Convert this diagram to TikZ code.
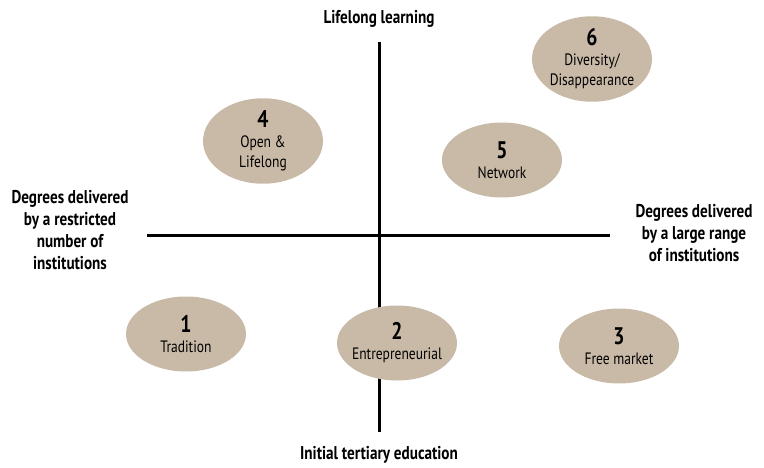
\documentclass[tikz,border=0pt]{standalone}
\usepackage{fontspec}
\setmainfont[FakeStretch=0.82]{PT Sans}
\usetikzlibrary{shapes.geometric}
\definecolor{tan}{RGB}{201,186,168}
\begin{document}
\begin{tikzpicture}[x=1pt,y=-1pt,
  axis/.style={line width=3pt},
  blob/.style={ellipse,fill=tan,minimum width=120pt,minimum height=75pt,inner xsep=-12pt,inner ysep=0pt,align=center,font=\fontsize{16.5}{20}\selectfont},
  lbl/.style={font=\bfseries\fontsize{18.5}{22}\selectfont,align=center}]
\useasboundingbox (0,0) rectangle (764,468);
\coordinate (top) at (379,42);
\coordinate (bot) at (379,432);
\coordinate (lft) at (147,236);
\coordinate (rgt) at (610,236);
\draw[axis] (top) -- (bot);
\draw[axis] (lft) -- (rgt);
\node[lbl] (tl) at (379,19) {Lifelong learning};
\node[lbl] (bl) at (379,455) {Initial tertiary education};
\node[lbl] (ll) at (70,230) {Degrees delivered\\by a restricted\\number of\\institutions};
\node[lbl] (rl) at (694,233) {Degrees delivered\\by a large range\\of institutions};
\newcommand{\nm}[1]{{\bfseries\fontsize{24}{22}\selectfont #1}}
\node[blob] (e1) at (186,334) {\nm{1}\\Tradition};
\node[blob] (e2) at (397,343) {\nm{2}\\Entrepreneurial};
\node[blob] (e3) at (619,346) {\nm{3}\\Free market};
\node[blob] (e4) at (263,141) {\nm{4}\\Open \&\\Lifelong};
\node[blob] (e5) at (502,160) {\nm{5}\\Network};
\node[blob] (e6) at (592,59) {\nm{6}\\Diversity/\\Disappearance};
\end{tikzpicture}
\end{document}
